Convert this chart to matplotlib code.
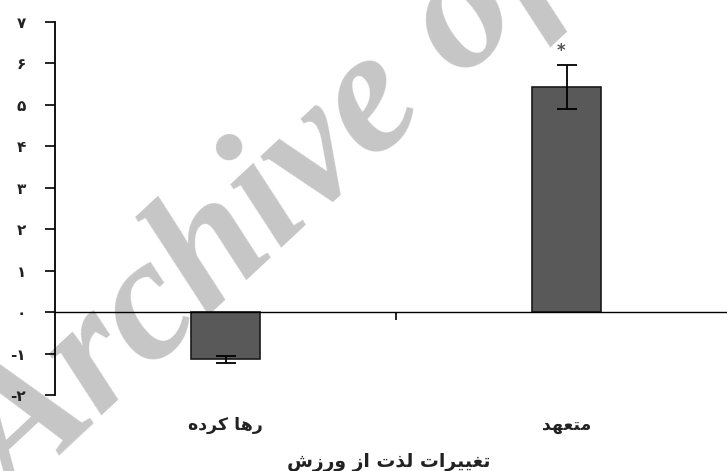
import matplotlib
matplotlib.use("Agg")
import matplotlib.pyplot as plt
from matplotlib.transforms import blended_transform_factory

# change in exercise enjoyment, by group
groups = ["رها کرده", "متعهد"]
means = [-1.14, 5.43]
errors = [0.09, 0.54]
ytick_values = [-2, -1, 0, 1, 2, 3, 4, 5, 6, 7]
ytick_labels = ["-۲", "-۱", "۰", "۱", "۲", "۳", "۴", "۵", "۶", "۷"]
xlabel = "تغییرات لذت از ورزش"

# presentation forms: isolated, final, initial, medial (None = right-joining only)
FORMS = {
    "ا": ("\uFE8D", "\uFE8E", None, None),
    "د": ("\uFEA9", "\uFEAA", None, None),
    "ذ": ("\uFEAB", "\uFEAC", None, None),
    "ر": ("\uFEAD", "\uFEAE", None, None),
    "ز": ("\uFEAF", "\uFEB0", None, None),
    "و": ("\uFEED", "\uFEEE", None, None),
    "ت": ("\uFE95", "\uFE96", "\uFE97", "\uFE98"),
    "ش": ("\uFEB5", "\uFEB6", "\uFEB7", "\uFEB8"),
    "ع": ("\uFEC9", "\uFECA", "\uFECB", "\uFECC"),
    "غ": ("\uFECD", "\uFECE", "\uFECF", "\uFED0"),
    "ل": ("\uFEDD", "\uFEDE", "\uFEDF", "\uFEE0"),
    "م": ("\uFEE1", "\uFEE2", "\uFEE3", "\uFEE4"),
    "ه": ("\uFEE9", "\uFEEA", "\uFEEB", "\uFEEC"),
    "ک": ("\uFB8E", "\uFB8F", "\uFB90", "\uFB91"),
    "ی": ("\uFBFC", "\uFBFD", "\uFBFE", "\uFBFF"),
}


def shape(text):
    """Join Persian letters and put them in visual (right-to-left) order."""
    out = []
    for i, ch in enumerate(text):
        forms = FORMS.get(ch)
        if forms is None:
            out.append(ch)
            continue
        prev = text[i - 1] if i > 0 else ""
        nxt = text[i + 1] if i + 1 < len(text) else ""
        join_prev = prev in FORMS and FORMS[prev][2] is not None
        join_next = forms[2] is not None and nxt in FORMS
        iso, fin, ini, med = forms
        if join_prev and join_next:
            out.append(med)
        elif join_prev:
            out.append(fin)
        elif join_next:
            out.append(ini)
        else:
            out.append(iso)
    return "".join(reversed(out))


plt.rcParams["font.family"] = ["DejaVu Sans"]

fig = plt.figure(figsize=(7.27, 4.71), dpi=100)

# watermark behind the chart
fig.text(0.022, -0.07, "Archive of SID", fontsize=127, family="Liberation Serif",
         weight="bold", style="italic", color="#c6c6c6", rotation=43,
         rotation_mode="anchor", ha="left", va="baseline", zorder=-1)

ax = fig.add_axes([55 / 727, 1 - 395 / 471, 682 / 727, 373 / 471])
ax.patch.set_visible(False)

xpos = [0.5, 1.5]
ax.bar(xpos, means, width=0.2, color="#595959", edgecolor="#1a1a1a", linewidth=1.2,
       zorder=2)
ax.errorbar(xpos, means, yerr=errors, fmt="none", ecolor="black", elinewidth=1.3,
            capsize=7, capthick=1.3, zorder=3)
ax.text(1.485, means[1] + errors[1] + 0.33, "*", ha="center", va="center",
        fontsize=12, weight="bold", color="#555555")

ax.set_xlim(0, 2)
ax.set_ylim(-2, 7)

for side in ("top", "right"):
    ax.spines[side].set_visible(False)
ax.spines["bottom"].set_position(("data", 0))
ax.spines["left"].set_linewidth(1.3)
ax.spines["bottom"].set_linewidth(1.0)

ax.set_yticks(ytick_values)
ax.set_yticklabels(ytick_labels, fontsize=11, weight="bold", color="#222222")
ax.tick_params(axis="y", direction="out", length=7, width=1.2, pad=14)

ax.set_xticks([])
ax.set_xticks([1.0], minor=True)
ax.tick_params(axis="x", which="minor", direction="out", length=6, width=1.2)

trans = blended_transform_factory(ax.transData, ax.transAxes)
for x, g in zip(xpos, groups):
    ax.text(x, -0.08, shape(g), transform=trans, ha="center", va="center",
            fontsize=12.5, weight="bold", color="#222222")
ax.text(0.978, -0.18, shape(xlabel), transform=trans, ha="center", va="center",
        fontsize=13.5, weight="bold", color="#222222")

fig.savefig("out.png", dpi=100)
